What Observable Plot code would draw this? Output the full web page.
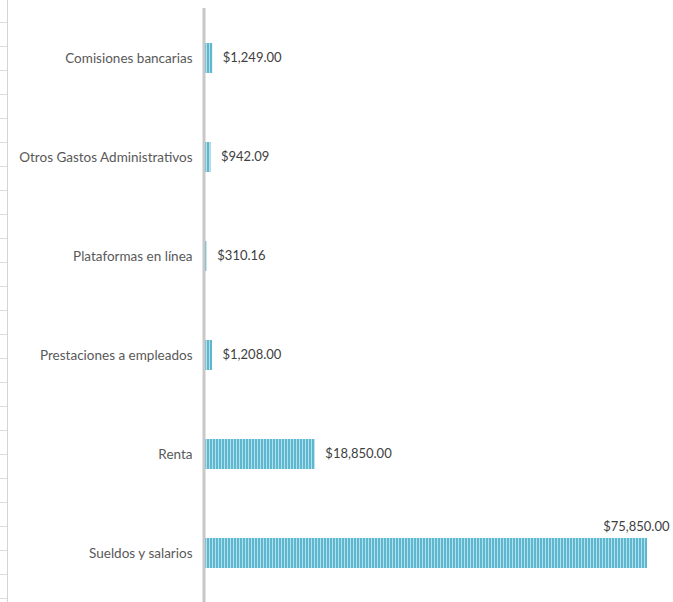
<!DOCTYPE html>
<html>
<head>
<meta charset="utf-8">
<script src="https://cdn.jsdelivr.net/npm/d3@7"></script>
<script src="https://cdn.jsdelivr.net/npm/@observablehq/plot@0.6"></script>
<style>
  html, body { margin: 0; padding: 0; background: #fff; }
  #wrap { position: relative; width: 673px; height: 602px; overflow: hidden; }
  #grid { position: absolute; left: 0; top: 0; width: 7px; height: 602px;
          border-right: 1px solid #d4d4d4;
          background: repeating-linear-gradient(to bottom, transparent 0, transparent 22px, #dcdcdc 22px, #dcdcdc 23px, transparent 23px, transparent 24px); }
  #chart { position: absolute; left: 0; top: 0; }
</style>
</head>
<body>
<div id="wrap"><div id="grid"></div><div id="chart"></div></div>
<script>
const categories = ["Comisiones bancarias", "Otros Gastos Administrativos", "Plataformas en línea", "Prestaciones a empleados", "Renta", "Sueldos y salarios"];
const values = [1249.00, 942.09, 310.16, 1208.00, 18850.00, 75850.00];

const data = categories.map((c, i) => ({category: c, value: values[i]}));
const maxVal = d3.max(values);
const fmt = d3.format("$,.2f");

const font = "Lato, 'Open Sans', sans-serif";

const chart = Plot.plot({
  width: 673,
  height: 602,
  marginLeft: 205,
  marginRight: 26,
  marginTop: 5,
  marginBottom: -4,
  style: {fontFamily: font, fontSize: "13.5px", color: "#595959", background: "transparent", overflow: "hidden"},
  x: {domain: [0, maxVal], axis: null},
  y: {domain: categories, paddingInner: 0.7, paddingOuter: 0.373, label: null, tickSize: 0, tickPadding: 13},
  marks: [
    Plot.barX(data, {y: "category", x: "value", fill: "url(#stripes)"}),
    Plot.ruleX([0], {stroke: "#c8c8c8", strokeWidth: 3, dx: -1.5, insetTop: 3}),
    Plot.text(data.filter(d => d.value < maxVal), {
      y: "category", x: "value", text: d => fmt(d.value),
      textAnchor: "start", dx: 10, dy: -1, fill: "#404040", fontSize: 13
    }),
    Plot.text(data.filter(d => d.value === maxVal), {
      y: "category", x: "value", text: d => fmt(d.value),
      textAnchor: "end", dx: 22, dy: -27, fill: "#404040", fontSize: 13
    })
  ]
});

// striped pattern fill
const svg = d3.select(chart);
const defs = svg.insert("defs", ":first-child");
const pat = defs.append("pattern")
  .attr("id", "stripes")
  .attr("patternUnits", "userSpaceOnUse")
  .attr("width", 3).attr("height", 10);
pat.append("rect").attr("width", 3).attr("height", 10).attr("fill", "#b3e0ec");
pat.append("rect").attr("width", 2).attr("height", 10).attr("fill", "#5cb7cf");

document.getElementById("chart").appendChild(chart);
</script>
</body>
</html>
